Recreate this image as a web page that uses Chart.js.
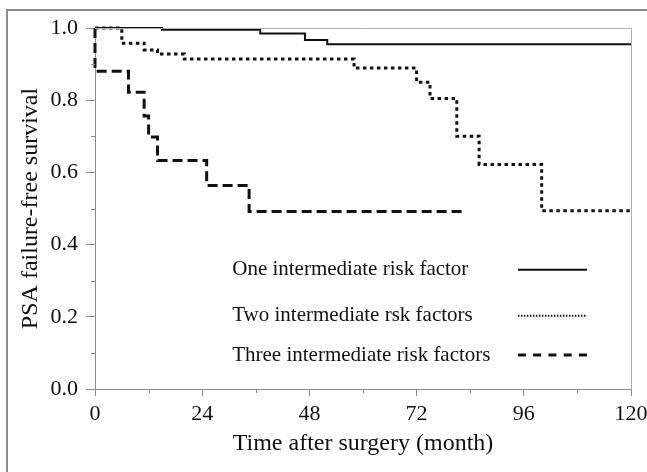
<!DOCTYPE html>
<html>
<head>
<meta charset="utf-8">
<script src="https://cdn.jsdelivr.net/npm/chart.js@4/dist/chart.umd.min.js"></script>
<style>
  body { margin: 0; background: #fff; }
  #wrap { position: relative; width: 647px; height: 472px; }
</style>
</head>
<body>
<div id="wrap"><canvas id="km-chart"></canvas></div>
<script>
// Kaplan-Meier curves: months and survival after each drop
const oneMonths = [0, 15, 37, 47, 52, 120];
const oneSurvival = [1.0, 0.995, 0.985, 0.967, 0.955, 0.955];

const twoMonths = [0, 6, 11, 14, 20, 58, 72, 75, 81, 86, 100, 120];
const twoSurvival = [1.0, 0.958, 0.939, 0.928, 0.914, 0.889, 0.85, 0.805, 0.70, 0.622, 0.494, 0.494];

const threeMonths = [0, 0, 7.5, 11, 12, 14, 25, 34.5, 82.5];
const threeSurvival = [1.0, 0.88, 0.822, 0.756, 0.698, 0.633, 0.564, 0.492, 0.492];

const legendLabels = ['One intermediate risk factor', 'Two intermediate rsk factors', 'Three intermediate risk factors'];
const legendRows = [0.33, 0.203, 0.094];   // legend rows, in survival units
const xTicks = [0, 24, 48, 72, 96, 120];
const yTicks = ['0.0', '0.2', '0.4', '0.6', '0.8', '1.0'];

const serif = 'Liberation Serif';
const ink = '#111';
const axisGray = '#8c8c8c';

function toPoints(xs, ys) {
    return xs.map((x, i) => ({ x: x, y: ys[i] }));
}

// outer frame, top/right edges of the plot box, minor ticks and the in-plot legend
const decorations = {
    id: 'decorations',
    beforeDraw(chart) {
        const ctx = chart.ctx;
        ctx.save();
        ctx.strokeStyle = axisGray;
        ctx.lineWidth = 2;
        ctx.beginPath();
        ctx.moveTo(7, chart.height);
        ctx.lineTo(7, 10);
        ctx.lineTo(chart.width, 10);
        ctx.stroke();
        ctx.restore();
    },
    afterDatasetsDraw(chart) {
        const { ctx, chartArea: a, scales } = chart;
        ctx.save();
        ctx.strokeStyle = '#b0b0b0';
        ctx.lineWidth = 1;
        ctx.beginPath();
        ctx.moveTo(a.left, a.top + 0.5);
        ctx.lineTo(a.right + 0.5, a.top + 0.5);
        ctx.lineTo(a.right + 0.5, a.bottom);
        ctx.stroke();

        // short minor ticks
        ctx.strokeStyle = axisGray;
        ctx.beginPath();
        scales.x.ticks.forEach(t => {
            if (t.value % 24 !== 0) {
                const px = Math.round(scales.x.getPixelForValue(t.value)) + 0.5;
                ctx.moveTo(px, a.bottom);
                ctx.lineTo(px, a.bottom + 4);
            }
        });
        scales.y.ticks.forEach(t => {
            if (Math.round(t.value * 10) % 2 !== 0) {
                const py = Math.round(scales.y.getPixelForValue(t.value)) + 0.5;
                ctx.moveTo(a.left - 4, py);
                ctx.lineTo(a.left, py);
            }
        });
        ctx.stroke();

        // legend
        const textX = a.left + (a.right - a.left) * 0.256;
        const lineX0 = a.left + (a.right - a.left) * 0.789;
        const lineX1 = a.left + (a.right - a.left) * 0.918;
        const styles = [
            { w: 2, dash: [] },
            { w: 2, dash: [1.5, 1.5] },
            { w: 3, dash: [8, 7.25] }
        ];
        ctx.font = '21px "' + serif + '"';
        ctx.fillStyle = ink;
        ctx.textBaseline = 'middle';
        legendLabels.forEach((label, i) => {
            const py = scales.y.getPixelForValue(legendRows[i]);
            ctx.fillText(label, textX, py);
            ctx.strokeStyle = ink;
            ctx.lineWidth = styles[i].w;
            ctx.setLineDash(styles[i].dash);
            ctx.beginPath();
            ctx.moveTo(lineX0, py);
            ctx.lineTo(lineX1, py);
            ctx.stroke();
        });
        ctx.restore();
    }
};

const canvas = document.querySelector('#km-chart');

new Chart(canvas.getContext('2d'), {
    type: 'line',
    data: {
        datasets: [
            {
                label: legendLabels[2],
                data: toPoints(threeMonths, threeSurvival),
                borderColor: ink,
                borderWidth: 3,
                borderDash: [10, 5],
                stepped: true,
                pointRadius: 0,
                clip: false
            },
            {
                label: legendLabels[1],
                data: toPoints(twoMonths, twoSurvival),
                borderColor: ink,
                borderWidth: 3,
                borderDash: [3.5, 3.5],
                stepped: true,
                pointRadius: 0,
                clip: false
            },
            {
                label: legendLabels[0],
                data: toPoints(oneMonths, oneSurvival),
                borderColor: ink,
                borderWidth: 2,
                stepped: true,
                pointRadius: 0,
                clip: false
            }
        ]
    },
    options: {
        responsive: true,
        maintainAspectRatio: false,
        animation: false,
        layout: { padding: { top: 28, right: 16, left: 0, bottom: 0 } },
        plugins: {
            legend: { display: false },
            tooltip: { enabled: false }
        },
        scales: {
            x: {
                type: 'linear',
                min: 0,
                max: 120,
                afterFit: scale => {
                    scale.height = 83;
                    scale.paddingLeft = 0;
                    scale.paddingRight = 0;
                },
                afterBuildTicks: scale => {
                    const t = [];
                    for (let v = 0; v <= 120; v += 12) t.push({ value: v });
                    scale.ticks = t;
                },
                ticks: {
                    autoSkip: false,
                    maxRotation: 0,
                    padding: 5,
                    color: ink,
                    font: { family: serif, size: 22 },
                    callback: v => (xTicks.includes(v) ? String(v) : '')
                },
                grid: {
                    drawOnChartArea: false,
                    tickLength: 7,
                    tickColor: c => (c.tick && c.tick.value % 24 === 0 ? axisGray : 'rgba(0,0,0,0)')
                },
                border: { color: axisGray, width: 1 },
                title: {
                    display: true,
                    text: 'Time after surgery (month)',
                    color: ink,
                    font: { family: serif, size: 24 },
                    padding: { top: 0, bottom: 14 }
                }
            },
            y: {
                min: 0,
                max: 1,
                afterFit: scale => {
                    scale.width = 95;
                    scale.paddingTop = 0;
                    scale.paddingBottom = 0;
                },
                afterBuildTicks: scale => {
                    const t = [];
                    for (let i = 0; i <= 10; i++) t.push({ value: i / 10 });
                    scale.ticks = t;
                },
                ticks: {
                    autoSkip: false,
                    padding: 8,
                    color: ink,
                    font: { family: serif, size: 22 },
                    callback: v => {
                        const label = v.toFixed(1);
                        return yTicks.includes(label) ? label : '';
                    }
                },
                grid: {
                    drawOnChartArea: false,
                    tickLength: 9,
                    tickColor: c => (c.tick && Math.round(c.tick.value * 10) % 2 === 0 ? axisGray : 'rgba(0,0,0,0)')
                },
                border: { color: axisGray, width: 1 },
                title: {
                    display: true,
                    text: 'PSA failure-free survival',
                    color: ink,
                    font: { family: serif, size: 24 },
                    padding: { top: 16, bottom: 0 }
                }
            }
        }
    },
    plugins: [decorations]
});
</script>
</body>
</html>
